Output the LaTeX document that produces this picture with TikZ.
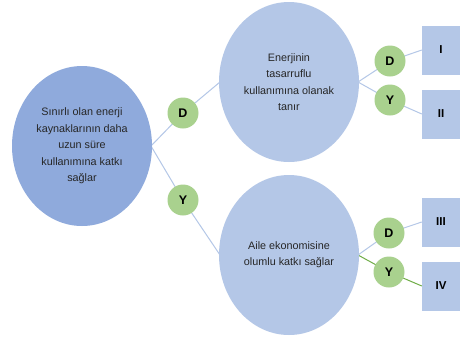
\documentclass[tikz,border=0pt]{standalone}
\usepackage{fontspec}
\setmainfont{Liberation Sans}
\usetikzlibrary{shapes.geometric}
\definecolor{darkell}{HTML}{8FAADC}
\definecolor{lightell}{HTML}{B4C7E7}
\definecolor{circ}{HTML}{A9D18E}
\definecolor{lineb}{HTML}{B4C7E7}
\definecolor{lineg}{HTML}{70AD47}
\begin{document}
\begin{tikzpicture}[x=1pt,y=-1pt,
  ell/.style={ellipse, minimum width=140pt, minimum height=160pt, inner sep=0pt, align=center, font=\fontsize{10.8}{16.4}\selectfont, text=black!85},
  ans/.style={circle, fill=circ, minimum size=31pt, inner sep=0pt, font=\bfseries\fontsize{12.5}{13}\selectfont},
  rbox/.style={rectangle, fill=lightell, minimum width=38pt, minimum height=49pt, inner sep=0pt, font=\bfseries\fontsize{11.5}{12}\selectfont},
  conn/.style={lineb, line width=1pt},
  conng/.style={lineg, line width=1pt}]
\useasboundingbox (0,0) rectangle (467,338);
\fill[white] (0,0) rectangle (467,338);
\coordinate (L) at (151,146);
\coordinate (T) at (220,82);
\coordinate (B) at (220,255);
\coordinate (Tr) at (358,82);
\coordinate (Br) at (358,255);
\coordinate (d1c) at (183,113);
\coordinate (y1c) at (183,200);
\coordinate (d2c) at (390,61);
\coordinate (y2c) at (390,100);
\coordinate (d3c) at (389,233);
\coordinate (y3c) at (389,272);
\node[rbox] (b1) at (441,50) {I};
\node[rbox] (b2) at (441,114) {II};
\node[rbox] (b3) at (441,222) {III};
\node[rbox] (b4) at (441,286) {IV};
\draw[conn] (L) -- (d1c) -- (T);
\draw[conn] (L) -- (y1c) -- (B);
\draw[conn] (Tr) -- (d2c) -- (b1.west);
\draw[conn] (Tr) -- (y2c) -- (b2.west);
\draw[conn] (Br) -- (d3c) -- (b3.west);
\draw[conng] (Br) -- (y3c) -- (b4.west);
\node[ans] (d1) at (d1c) {D};
\node[ans] (y1) at (y1c) {Y};
\node[ans] (d2) at (d2c) {D};
\node[ans] (y2) at (y2c) {Y};
\node[ans] (d3) at (d3c) {D};
\node[ans] (y3) at (y3c) {Y};
\node[ell, fill=darkell] (e1) at (82,146) {Sınırlı olan enerji\\kaynaklarının daha\\uzun süre\\kullanımına katkı\\sağlar};
\node[ell, fill=lightell] (e2) at (289,82) {Enerjinin\\tasarruflu\\kullanımına olanak\\tanır};
\node[ell, fill=lightell] (e3) at (289,255) {Aile ekonomisine\\olumlu katkı sağlar};
\end{tikzpicture}
\end{document}
